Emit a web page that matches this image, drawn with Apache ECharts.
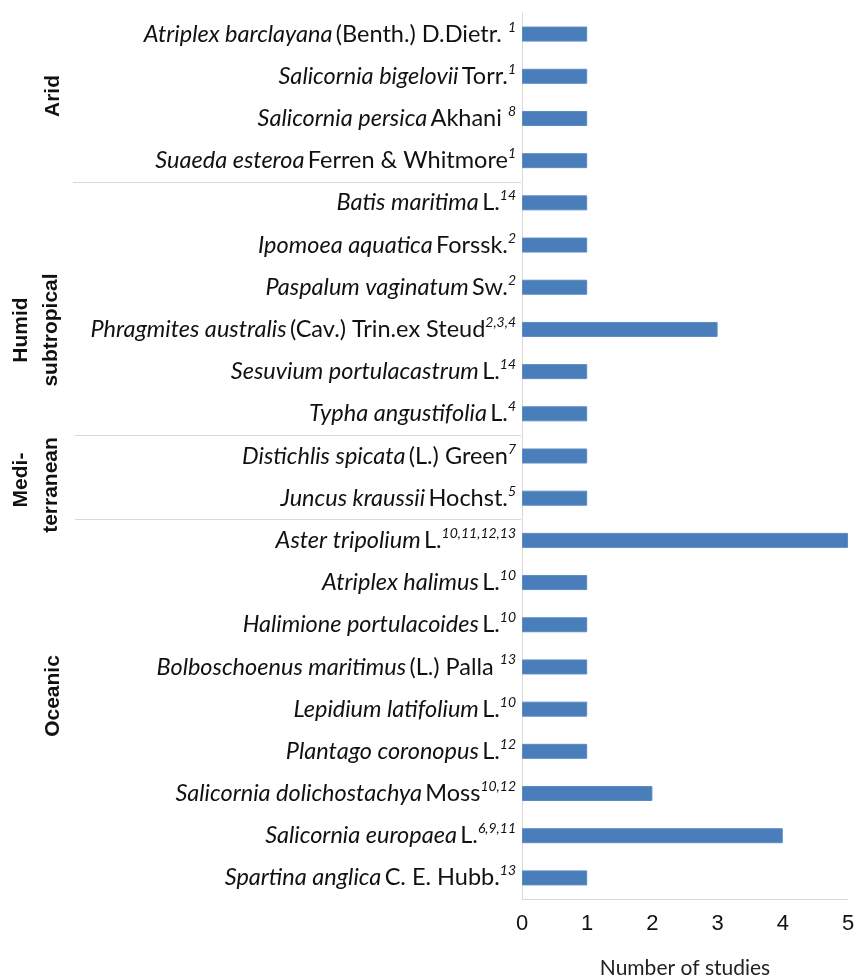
<!DOCTYPE html>
<html lang="en">
<head>
    <meta charset="UTF-8">
    <title>Number of studies per species</title>
    <script src="https://cdn.jsdelivr.net/npm/echarts@6/dist/echarts.min.js"></script>
    <style>
        html, body { margin: 0; padding: 0; background: #fff; }
        #container { width: 855px; height: 978px; }
    </style>
</head>
<body>
<div id="container"></div>
<script type="text/javascript">
    // species (italic), authority (plain), reference numbers (superscript)
    var species = ['Atriplex barclayana', 'Salicornia bigelovii', 'Salicornia persica', 'Suaeda esteroa',
        'Batis maritima', 'Ipomoea aquatica', 'Paspalum vaginatum', 'Phragmites australis',
        'Sesuvium portulacastrum', 'Typha angustifolia', 'Distichlis spicata', 'Juncus kraussii',
        'Aster tripolium', 'Atriplex halimus', 'Halimione portulacoides', 'Bolboschoenus maritimus',
        'Lepidium latifolium', 'Plantago coronopus', 'Salicornia dolichostachya', 'Salicornia europaea',
        'Spartina anglica'];
    var authors = ['(Benth.) D.Dietr. ', 'Torr.', 'Akhani ', 'Ferren & Whitmore',
        'L.', 'Forssk.', 'Sw.', '(Cav.) Trin.ex Steud',
        'L.', 'L.', '(L.) Green', 'Hochst.',
        'L.', 'L.', 'L.', '(L.) Palla ',
        'L.', 'L.', 'Moss', 'L.',
        'C. E. Hubb.'];
    var refs = ['1', '1', '8', '1',
        '14', '2', '2', '2,3,4',
        '14', '4', '7', '5',
        '10,11,12,13', '10', '10', '13',
        '10', '12', '10,12', '6,9,11',
        '13'];
    var studies = [1, 1, 1, 1, 1, 1, 1, 3, 1, 1, 1, 1, 5, 1, 1, 1, 1, 1, 2, 4, 1];

    var groupNames = [['Arid'], ['Humid', 'subtropical'], ['Medi-', 'terranean'], ['Oceanic']];
    var groupSizes = [4, 6, 2, 9];
    var xTicks = [0, 1, 2, 3, 4, 5];

    var dom = document.getElementById('container');
    var myChart = echarts.init(dom);

    var labelFont = 'Lato, "Open Sans", sans-serif';

    var option = {
        animation: false,
        grid: {
            left: 522,
            right: 7,
            top: 13,
            bottom: 79,
            containLabel: false,
            outerBoundsMode: 'none'
        },
        xAxis: {
            type: 'value',
            min: xTicks[0],
            max: xTicks[xTicks.length - 1],
            interval: 1,
            name: 'Number of studies',
            nameLocation: 'middle',
            nameGap: 59,
            nameTextStyle: {
                fontFamily: labelFont,
                fontSize: 21,
                color: '#222'
            },
            axisLine: { show: true, lineStyle: { color: '#d9d9d9', width: 1 } },
            axisTick: { show: false },
            splitLine: { show: false },
            axisLabel: {
                margin: 14,
                fontFamily: '"Liberation Sans", Arial, sans-serif',
                fontSize: 22,
                color: '#111'
            }
        },
        yAxis: {
            type: 'category',
            inverse: true,
            data: species,
            axisLine: { show: true, lineStyle: { color: '#d9d9d9', width: 1 } },
            axisTick: { show: false },
            axisLabel: {
                margin: 6,
                interval: 0,
                formatter: function (value, index) {
                    return '{i|' + species[index] + '} {n|' + authors[index] + '}{s|' + refs[index] + '}';
                },
                rich: {
                    i: { fontFamily: labelFont, fontStyle: 'italic', fontSize: 23.5, color: '#111', lineHeight: 28 },
                    n: { fontFamily: labelFont, fontSize: 23.5, color: '#111', lineHeight: 28 },
                    s: { fontFamily: labelFont, fontStyle: 'italic', fontSize: 14, color: '#111', lineHeight: 14, verticalAlign: 'top' }
                }
            }
        },
        series: [
            {
                name: 'Number of studies',
                type: 'bar',
                data: studies,
                barWidth: 15,
                itemStyle: {
                    color: '#4a7ebb',
                    borderColor: '#5a8bc6',
                    borderWidth: 1
                }
            }
        ]
    };

    myChart.setOption(option);

    // group separators and rotated group names on the left
    var graphics = [];
    var labelPos = [
        [[53, 96]],
        [[21, 330], [51, 330]],
        [[21, 480], [51, 485]],
        [[53, 696]]
    ];
    var start = 0;
    for (var g = 0; g < groupSizes.length; g++) {
        if (g > 0) {
            var yPrev = myChart.convertToPixel({ yAxisIndex: 0 }, start - 1);
            var yNext = myChart.convertToPixel({ yAxisIndex: 0 }, start);
            var yLine = Math.round((yPrev + yNext) / 2) + 0.5;
            graphics.push({
                type: 'line',
                shape: { x1: g === 1 ? 73 : 75, y1: yLine, x2: 521, y2: yLine },
                style: { stroke: '#d9d9d9', lineWidth: 1 }
            });
        }
        for (var k = 0; k < groupNames[g].length; k++) {
            graphics.push({
                type: 'text',
                x: labelPos[g][k][0],
                y: labelPos[g][k][1],
                rotation: Math.PI / 2,
                style: {
                    text: groupNames[g][k],
                    font: 'bold 21px "Liberation Sans", Arial, sans-serif',
                    fill: '#111',
                    align: 'center',
                    verticalAlign: 'middle'
                }
            });
        }
        start += groupSizes[g];
    }
    myChart.setOption({ graphic: graphics });
</script>
</body>
</html>
